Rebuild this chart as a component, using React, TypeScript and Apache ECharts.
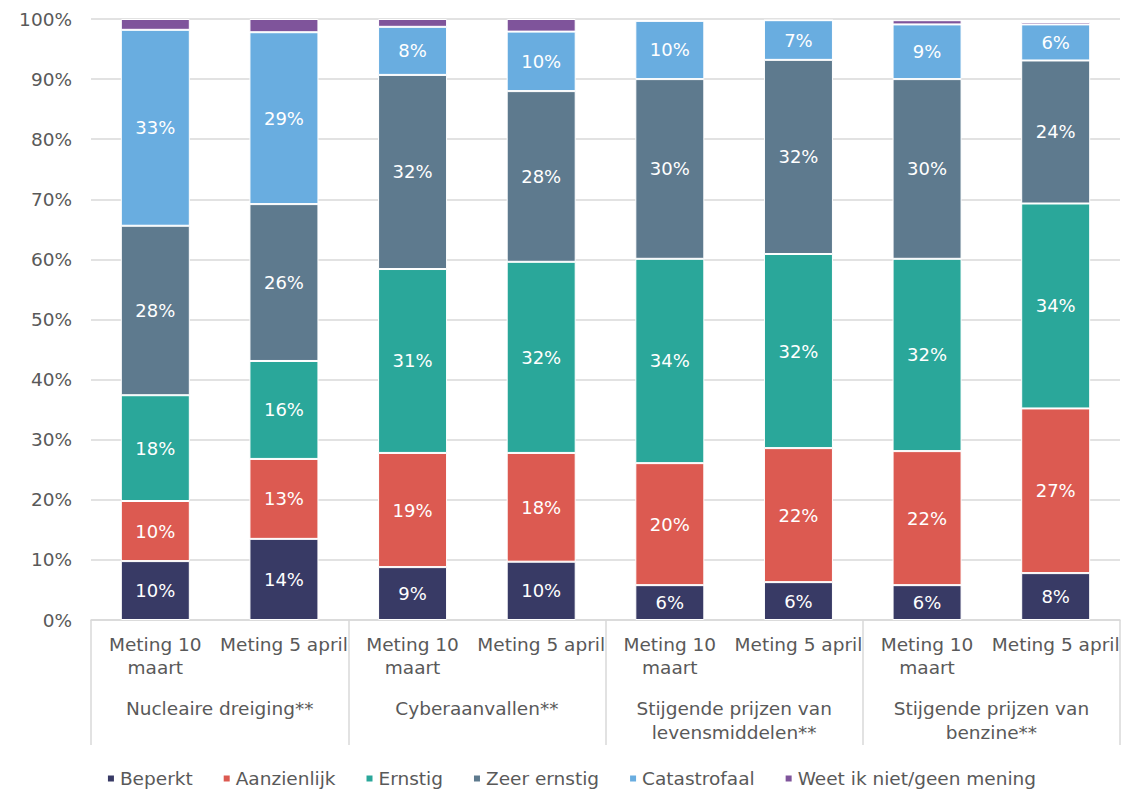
import React, { useEffect, useRef } from "react";
import * as echarts from "echarts";

const categories = [
  "Meting 10\nmaart", "Meting 5 april",
  "Meting 10\nmaart", "Meting 5 april",
  "Meting 10\nmaart", "Meting 5 april",
  "Meting 10\nmaart", "Meting 5 april",
];
const groups = [
  "Nucleaire dreiging**",
  "Cyberaanvallen**",
  "Stijgende prijzen van\nlevensmiddelen**",
  "Stijgende prijzen van\nbenzine**",
];
const yTicks = [0, 10, 20, 30, 40, 50, 60, 70, 80, 90, 100];

const beperkt = [9.8, 13.5, 8.8, 9.7, 5.8, 6.3, 5.8, 7.8];
const aanzienlijk = [10.0, 13.3, 19.0, 18.1, 20.3, 22.3, 22.3, 27.4];
const ernstig = [17.6, 16.3, 30.6, 31.8, 34.0, 32.3, 32.0, 34.1];
const zeerErnstig = [28.2, 26.1, 32.3, 28.4, 29.9, 32.3, 29.9, 23.8];
const catastrofaal = [32.6, 28.6, 8.0, 9.9, 9.7, 6.6, 9.1, 6.0];
const weetNiet = [1.8, 2.2, 1.3, 2.1, 0, 0, 0.7, 0.4];

const seriesDefs = [
  { name: "Beperkt", data: beperkt, color: "#383A65", label: true },
  { name: "Aanzienlijk", data: aanzienlijk, color: "#DC5A51", label: true },
  { name: "Ernstig", data: ernstig, color: "#2AA79A", label: true },
  { name: "Zeer ernstig", data: zeerErnstig, color: "#5E7A8E", label: true },
  { name: "Catastrofaal", data: catastrofaal, color: "#69ADE0", label: true },
  { name: "Weet ik niet/geen mening", data: weetNiet, color: "#7F549B", label: false },
];

const FONT = "DejaVu Sans, Liberation Sans, Arial, sans-serif";
const TXT = "#595959";
const GRIDC = "#d9d9d9";
const FS = 18.5;

export default function App() {
  const ref = useRef<HTMLDivElement>(null);
  useEffect(() => {
    if (!ref.current) return;
    const chart = echarts.init(ref.current, null, { renderer: "svg" });
    chart.setOption({
      animation: false,
      textStyle: { fontFamily: FONT },
      grid: { left: 91, right: 22, top: 19, bottom: 170 },
      legend: {
        top: 764,
        left: "center",
        itemWidth: 8,
        itemHeight: 8,
        itemGap: 29,
        icon: "rect",
        textStyle: { fontSize: FS, color: TXT, fontFamily: FONT },
        data: seriesDefs.map((s) => s.name),
      },
      xAxis: [
        {
          type: "category",
          data: categories,
          position: "bottom",
          axisLine: { show: true, lineStyle: { color: GRIDC, width: 1.5 } },
          axisTick: { show: false },
          axisLabel: {
            interval: 0,
            fontSize: FS,
            color: TXT,
            lineHeight: 23,
            margin: 13,
            fontFamily: FONT,
          },
        },
        {
          type: "category",
          data: groups,
          position: "bottom",
          axisLine: { show: false },
          axisTick: { show: true, length: 125, lineStyle: { color: GRIDC, width: 1.5 } },
          axisLabel: {
            interval: 0,
            fontSize: FS,
            color: TXT,
            lineHeight: 24,
            margin: 76,
            fontFamily: FONT,
          },
        },
      ],
      yAxis: {
        type: "value",
        min: 0,
        max: 100,
        interval: 10,
        axisLine: { show: false },
        axisTick: { show: false },
        axisLabel: {
          formatter: (v: number) => (yTicks.includes(v) ? v + "%" : ""),
          fontSize: FS,
          color: TXT,
          margin: 19,
          fontFamily: FONT,
        },
        splitLine: { lineStyle: { color: GRIDC, width: 1.5 } },
      },
      series: seriesDefs.map((s) => ({
        name: s.name,
        type: "bar",
        stack: "total",
        xAxisIndex: 0,
        barWidth: 69,
        data: s.data,
        itemStyle: { color: s.color, borderColor: "#ffffff", borderWidth: 1 },
        label: {
          show: s.label,
          position: "inside",
          color: "#ffffff",
          fontSize: 18,
          fontFamily: FONT,
          formatter: (p: any) => Math.round(p.value) + "%",
        },
      })),
    });
    return () => chart.dispose();
  }, []);
  return (
    <div
      ref={ref}
      style={{ position: "fixed", left: 0, top: 0, width: 1142, height: 790, background: "#fff" }}
    />
  );
}
